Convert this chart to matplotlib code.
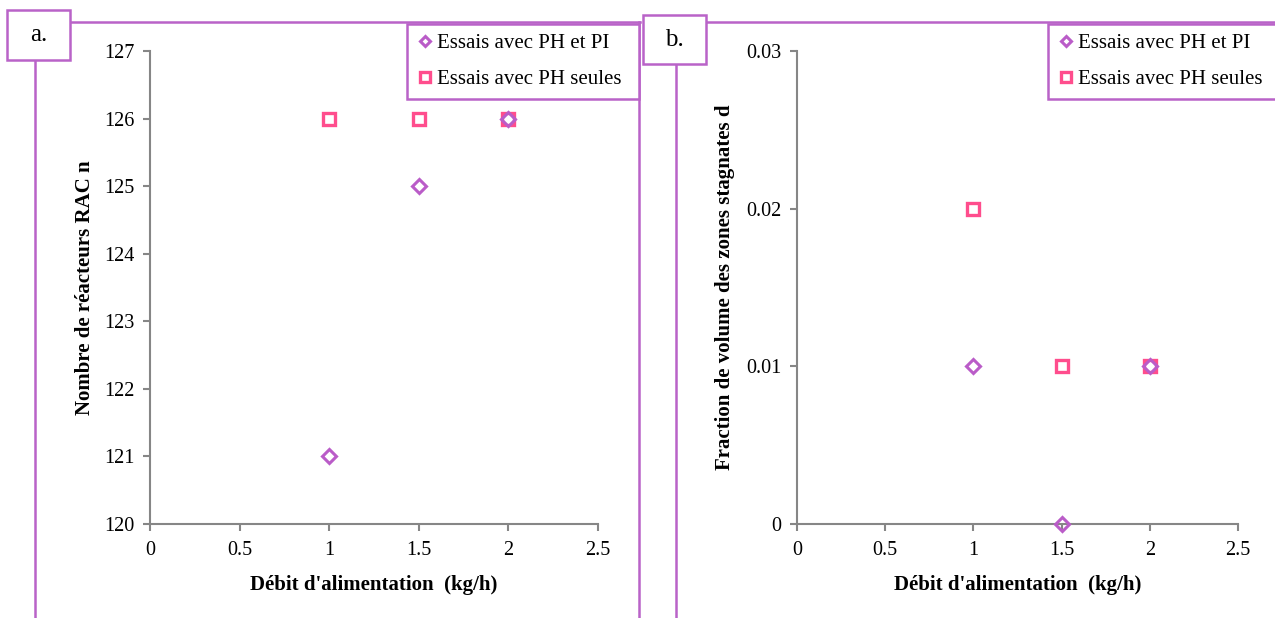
import matplotlib
matplotlib.use("Agg")
import matplotlib.pyplot as plt
from matplotlib.lines import Line2D
from matplotlib.patches import Rectangle

# Data
debit = [1.0, 1.5, 2.0]
n_ph_pi = [121, 125, 126]
n_ph = [126, 126, 126]
d_ph_pi = [0.01, 0.0, 0.01]
d_ph = [0.02, 0.01, 0.01]
label_ph_pi = "Essais avec PH et PI"
label_ph = "Essais avec PH seules"
xlabel = "Débit d'alimentation  (kg/h)"
ylabel_a = "Nombre de réacteurs RAC n"
ylabel_b = "Fraction de volume des zones stagnates d"
xticks = [0, 0.5, 1, 1.5, 2, 2.5]
xtick_labels = ["0", "0.5", "1", "1.5", "2", "2.5"]
yticks_a = [120, 121, 122, 123, 124, 125, 126, 127]
yticks_b = [0, 0.01, 0.02, 0.03]
ytick_labels_b = ["0", "0.01", "0.02", "0.03"]

W, H = 1275, 618
plt.rcParams['font.family'] = ['Liberation Serif', 'DejaVu Serif']
fig = plt.figure(figsize=(W / 100, H / 100), dpi=100)

PURPLE = "#BA5CC8"
PINK = "#FF4D8D"
FRAME = "#B963C8"
GRAY = "#868686"
TICK_FS = 14.5
LABEL_FS = 15
LEG_FS = 15


def fx(x):
    return x / W


def fy(y):
    return 1 - y / H


def add_axes(left, right, top, bottom):
    return fig.add_axes([fx(left), fy(bottom), fx(right - left), (bottom - top) / H])


def style(ax):
    for s in ["top", "right"]:
        ax.spines[s].set_visible(False)
    for s in ["left", "bottom"]:
        ax.spines[s].set_color(GRAY)
        ax.spines[s].set_linewidth(1.5)
    ax.tick_params(direction="out", length=5, width=1.5, color=GRAY,
                   labelsize=TICK_FS, labelcolor="black")
    ax.tick_params(axis="x", pad=7)
    ax.tick_params(axis="y", pad=6)
    ax.set_xlim(0, 2.5)
    ax.set_xticks(xticks)
    ax.set_xticklabels(xtick_labels)
    ax.set_xlabel(xlabel, fontsize=LABEL_FS, fontweight="bold", labelpad=11)


def plot_series(ax, y1, y2):
    h2, = ax.plot(debit, y2, linestyle="none", marker="s", markersize=9.3,
                  markerfacecolor="none", markeredgecolor=PINK, markeredgewidth=2.4,
                  clip_on=False, zorder=3)
    h1, = ax.plot(debit, y1, linestyle="none", marker="D", markersize=7.0,
                  markerfacecolor="none", markeredgecolor=PURPLE, markeredgewidth=2.2,
                  clip_on=False, zorder=4)
    return h1, h2


# Panel a
axa = add_axes(150, 598, 51, 524)
style(axa)
axa.set_ylim(120, 127)
axa.set_yticks(yticks_a)
axa.set_ylabel(ylabel_a, fontsize=LABEL_FS, fontweight="bold", labelpad=7)
ha1, ha2 = plot_series(axa, n_ph_pi, n_ph)

# Panel b
axb = add_axes(797, 1238, 51, 524)
style(axb)
axb.set_ylim(0, 0.03)
axb.set_yticks(yticks_b)
axb.set_yticklabels(ytick_labels_b)
axb.set_ylabel(ylabel_b, fontsize=LABEL_FS, fontweight="bold", labelpad=8)
hb1, hb2 = plot_series(axb, d_ph_pi, d_ph)


def legend(h1, h2, x0, y0, x1, y1):
    leg = fig.legend([h1, h2], [label_ph_pi, label_ph], loc="upper left",
                     bbox_to_anchor=(fx(x0), fy(y1), fx(x1 - x0), (y1 - y0) / H),
                     bbox_transform=fig.transFigure, mode="expand",
                     fontsize=LEG_FS, frameon=True, fancybox=False, handlelength=0.8,
                     handletextpad=0.2, borderpad=0.45, labelspacing=0.8,
                     borderaxespad=0, markerscale=0.8)
    fr = leg.get_frame()
    fr.set_edgecolor(FRAME)
    fr.set_linewidth(1.8)
    fr.set_facecolor("white")
    fr.set_alpha(1)
    return leg


legend(ha1, ha2, 407, 24, 639, 97)
legend(hb1, hb2, 1048, 24, 1290, 97)


# Frame decorations
def fline(x0, y0, x1, y1):
    fig.add_artist(Line2D([fx(x0), fx(x1)], [fy(y0), fy(y1)], color=FRAME,
                          linewidth=1.8, transform=fig.transFigure, zorder=1))


def fbox(x0, y0, x1, y1, text):
    fig.add_artist(Rectangle((fx(x0), fy(y1)), fx(x1 - x0), (y1 - y0) / H,
                             facecolor="white", edgecolor=FRAME, linewidth=1.8,
                             transform=fig.transFigure, zorder=2))
    fig.text(fx((x0 + x1) / 2), fy((y0 + y1) / 2), text, ha="center", va="center",
             fontsize=18, zorder=3)


# panel a frame
fline(70, 22, 640, 22)
fline(35, 60, 35, H)
fline(639, 22, 639, H)
fbox(7, 10, 70, 60, "a.")
# panel b frame
fline(706, 22, W, 22)
fline(676, 64, 676, H)
fbox(643, 15, 706, 64, "b.")

fig.savefig("out.png", dpi=100)
